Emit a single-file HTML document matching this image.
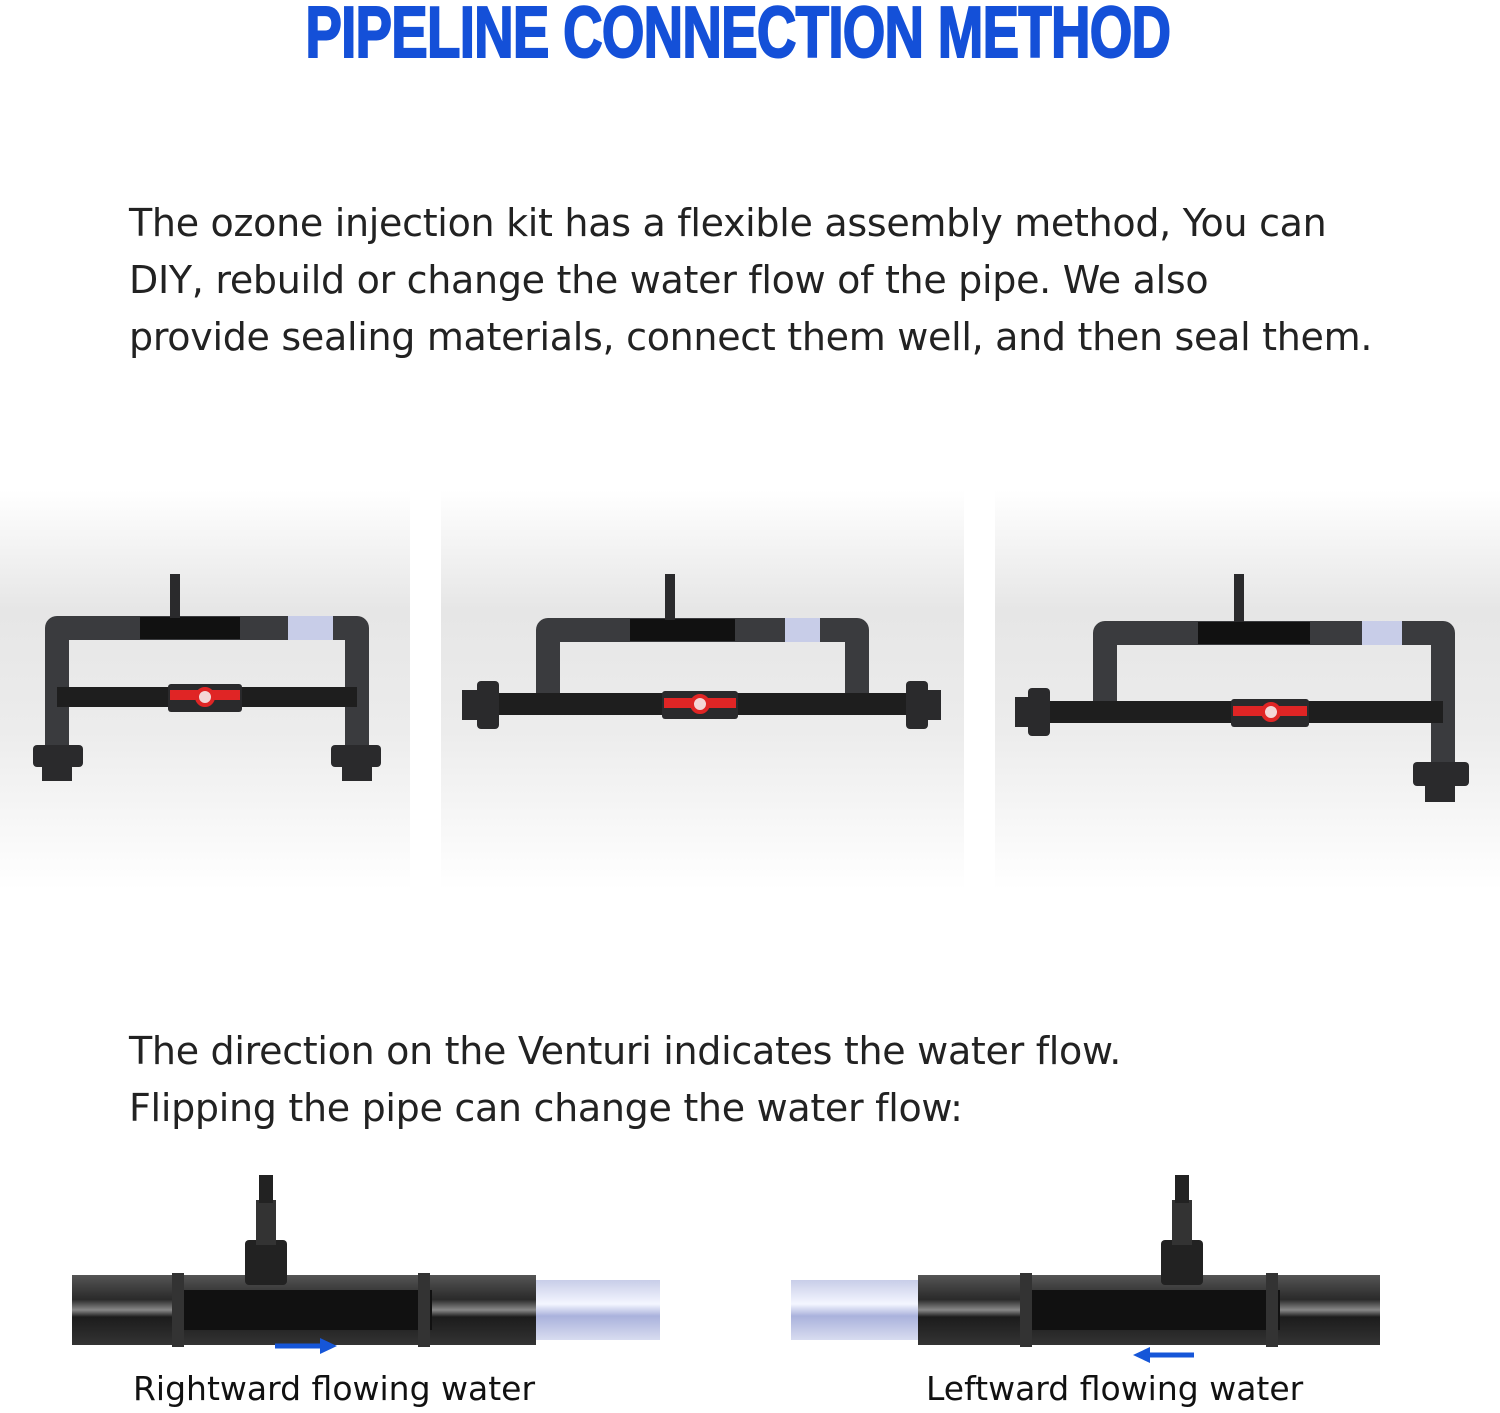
<!DOCTYPE html>
<html><head><meta charset="utf-8"><style>
body{margin:0;width:1500px;height:1413px;background:#fff;overflow:hidden;position:relative;font-family:"DejaVu Sans","Liberation Sans",sans-serif}
.t{position:absolute;left:0;width:1500px;top:-8px;text-align:center;font-family:"Liberation Sans",sans-serif;font-weight:bold;font-size:72px;color:#1450d8;transform:scaleX(0.76) translateX(-16px);letter-spacing:-1px;-webkit-text-stroke:2px #1450d8}
.p{position:absolute;left:129px;font-size:38px;color:#222;line-height:57px;white-space:nowrap;font-family:"DejaVu Sans","Liberation Sans",sans-serif;letter-spacing:-0.3px}
.c{position:absolute;font-size:33px;color:#111;white-space:nowrap}
</style></head><body>
<div class="t">PIPELINE CONNECTION METHOD</div>
<div class="p" style="top:195px">The ozone injection kit has a flexible assembly method, You can<br>DIY, rebuild or change the water flow of the pipe. We also<br>provide sealing materials, connect them well, and then seal them.</div>
<div class="p" style="top:1023px">The direction on the Venturi indicates the water flow.<br>Flipping the pipe can change the water flow:</div>
<svg style="position:absolute;left:0;top:0" width="1500" height="1413">
<defs>
<linearGradient id="bg" x1="0" y1="0" x2="0" y2="1"><stop offset="0" stop-color="#fff"/><stop offset="0.3" stop-color="#e6e6e6"/><stop offset="0.6" stop-color="#ececec"/><stop offset="1" stop-color="#fff"/></linearGradient>
<linearGradient id="pv" x1="0" y1="0" x2="0" y2="1"><stop offset="0" stop-color="#555"/><stop offset="0.35" stop-color="#2a2a2a"/><stop offset="0.5" stop-color="#888"/><stop offset="0.6" stop-color="#1c1c1c"/><stop offset="1" stop-color="#333"/></linearGradient>
<linearGradient id="cl" x1="0" y1="0" x2="0" y2="1"><stop offset="0" stop-color="#c8cde8"/><stop offset="0.4" stop-color="#f4f6ff"/><stop offset="0.6" stop-color="#aab2dc"/><stop offset="1" stop-color="#d8dcf0"/></linearGradient>
</defs>
<rect x="0" y="490" width="410" height="400" fill="url(#bg)"/>
<rect x="441" y="490" width="523" height="400" fill="url(#bg)"/>
<rect x="995" y="490" width="505" height="400" fill="url(#bg)"/>
<g fill="none" stroke-linecap="butt">
<path d="M57 760 V628 H357 V760" stroke="#3a3b3e" stroke-width="24" stroke-linejoin="round"/>
<path d="M57 697 H357" stroke="#1e1e1e" stroke-width="20"/>
<path d="M140 628 H240" stroke="#111" stroke-width="22"/>
<path d="M288 628 H333" stroke="#c8cde8" stroke-width="24"/>
<path d="M548 704 V630 H857 V704" stroke="#3a3b3e" stroke-width="24" stroke-linejoin="round"/>
<path d="M470 704 H935" stroke="#1e1e1e" stroke-width="22"/>
<path d="M630 630 H735" stroke="#111" stroke-width="22"/>
<path d="M785 630 H820" stroke="#c8cde8" stroke-width="24"/>
<path d="M1105 712 V633 H1443 V770" stroke="#3a3b3e" stroke-width="24" stroke-linejoin="round"/>
<path d="M1025 712 H1443" stroke="#1e1e1e" stroke-width="22"/>
<path d="M1198 633 H1310" stroke="#111" stroke-width="22"/>
<path d="M1362 633 H1402" stroke="#c8cde8" stroke-width="24"/>
</g>
<g fill="#2a2a2c">
<rect x="33" y="745" width="50" height="22" rx="4"/><rect x="42" y="765" width="30" height="16"/>
<rect x="331" y="745" width="50" height="22" rx="4"/><rect x="342" y="765" width="30" height="16"/>
<rect x="477" y="681" width="22" height="48" rx="4"/><rect x="462" y="690" width="17" height="30"/>
<rect x="906" y="681" width="22" height="48" rx="4"/><rect x="926" y="690" width="15" height="30"/>
<rect x="1028" y="688" width="22" height="48" rx="4"/><rect x="1015" y="697" width="15" height="30"/>
<rect x="1413" y="762" width="56" height="24" rx="4"/><rect x="1425" y="784" width="30" height="18"/>
<rect x="170" y="574" width="10" height="44"/><rect x="665" y="574" width="10" height="46"/><rect x="1234" y="574" width="10" height="48"/>
<rect x="168" y="684" width="74" height="28" rx="3"/><rect x="662" y="691" width="76" height="28" rx="3"/><rect x="1231" y="699" width="78" height="28" rx="3"/>
</g>
<g fill="#e02525"><rect x="170" y="690" width="70" height="10"/><rect x="664" y="698" width="72" height="10"/><rect x="1233" y="706" width="74" height="10"/></g>
<g fill="#f3d7d7" stroke="#e02525" stroke-width="4"><circle cx="205" cy="697" r="8"/><circle cx="700" cy="704" r="8"/><circle cx="1271" cy="712" r="8"/></g>
<rect x="72" y="1275" width="464" height="70" fill="url(#pv)"/>
<rect x="536" y="1280" width="124" height="60" fill="url(#cl)"/>
<rect x="172" y="1290" width="260" height="40" fill="#111"/>
<rect x="172" y="1273" width="12" height="74" fill="#333"/><rect x="418" y="1273" width="12" height="74" fill="#333"/>
<rect x="245" y="1240" width="42" height="45" rx="4" fill="#222"/><rect x="256" y="1200" width="20" height="45" fill="#333"/><rect x="259" y="1175" width="14" height="28" fill="#222"/>
<path d="M275 1346 H322" stroke="#1656d8" stroke-width="5"/><polygon points="320,1338 337,1346 320,1354" fill="#1656d8"/>
<rect x="918" y="1275" width="462" height="70" fill="url(#pv)"/>
<rect x="791" y="1280" width="127" height="60" fill="url(#cl)"/>
<rect x="1022" y="1290" width="258" height="40" fill="#111"/>
<rect x="1020" y="1273" width="12" height="74" fill="#333"/><rect x="1266" y="1273" width="12" height="74" fill="#333"/>
<rect x="1161" y="1240" width="42" height="45" rx="4" fill="#222"/><rect x="1172" y="1200" width="20" height="45" fill="#333"/><rect x="1175" y="1175" width="14" height="28" fill="#222"/>
<path d="M1148 1355 H1194" stroke="#1656d8" stroke-width="5"/><polygon points="1150,1347 1133,1355 1150,1363" fill="#1656d8"/>
</svg>
<div class="c" style="left:133px;top:1369px">Rightward flowing water</div>
<div class="c" style="left:926px;top:1369px">Leftward flowing water</div>
</body></html>
